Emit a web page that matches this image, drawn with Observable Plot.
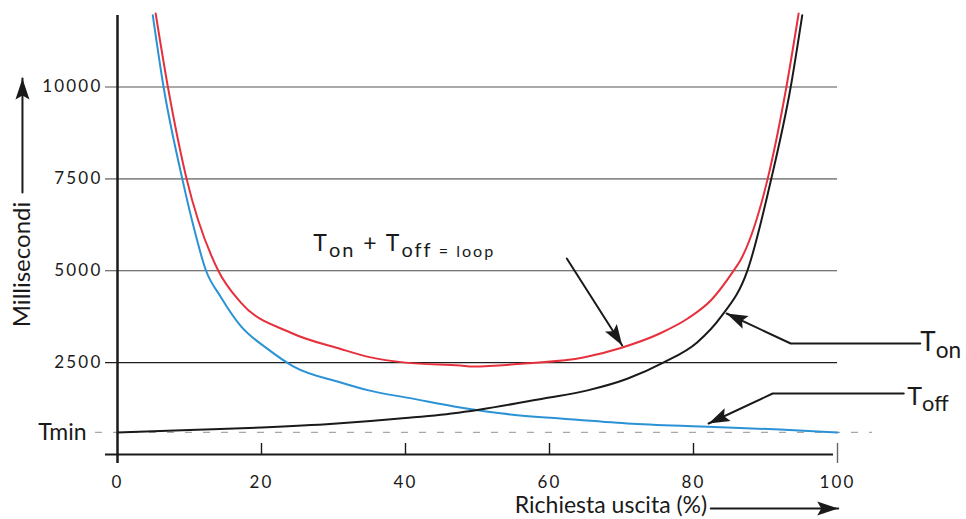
<!DOCTYPE html>
<html><head><meta charset="utf-8">
<script src="https://cdn.jsdelivr.net/npm/d3@7"></script>
<script src="https://cdn.jsdelivr.net/npm/@observablehq/plot@0.6"></script>
<style>
body{margin:0;background:#fff}
#chart svg{display:block}
#chart g[aria-label="y-axis tick label"] text,
#chart g[aria-label="x-axis tick label"] text{letter-spacing:2.2px}
</style></head><body><div id="chart"></div>
<script>
// ---- data ----
const xTicks = [0, 20, 40, 60, 80, 100];
const yTicks = [2500, 5000, 7500, 10000];
const tmin = 600;

// T_off (blue)
const offX = [4.9, 6.4, 9.0, 10.5, 12.3, 14.3, 17.1, 20.8, 24.4, 31, 34.9, 41, 47.6, 54.6, 61.5, 70.8, 81, 92, 100];
const offY = [11950, 10000, 7500, 6250, 5000, 4300, 3500, 2880, 2400, 1960, 1745, 1520, 1280, 1090, 980, 845, 760, 680, 600];

// T_on (black)
const onX = [0, 10, 20, 30, 40, 47.6, 50.4, 59.2, 65.3, 70.8, 75.8, 80.5, 83.75, 87.5, 90.8, 93.5, 95.1];
const onY = [600, 667, 735, 835, 990, 1145, 1225, 1525, 1745, 2060, 2500, 3050, 3730, 5010, 7500, 10000, 11950];

// T_on + T_off = loop (red)
const loopX = [5.3, 7.0, 9.6, 14.0, 17.1, 24, 31, 35, 40, 47.6, 49.4, 56.9, 64.7, 69.9, 75.4, 79.2, 82.4, 85.6, 86.5, 90.3, 92.9, 94.6];
const loopY = [12000, 10000, 7500, 5000, 4140, 3320, 2870, 2650, 2500, 2420, 2395, 2480, 2640, 2900, 3300, 3700, 4190, 5010, 5280, 7500, 10000, 12000];

// annotation texts (data coordinates)
const labelText = ["T_{on} + T_{off}_s{ = loop}", "T_{on}", "T_{off}"];
const labelX = [27.2, 111.5, 109.7];
const labelY = [5532, 2811, 1360];
const labelSize = [23, 26, 25];
const labelSpacing = [2, 0, 0];

// annotation arrows (data coordinates)
const arrowId = ["loop", "on", "off", "ytitle", "xtitle"];
const arrowXs = [[62.4, 70.1], [111.5, 93.5, 84.6], [109.2, 91, 82.1], [-13.2, -13.2], [82.4, 100.1]];
const arrowYs = [[5334, 2966], [3020, 3020, 3837], [1660, 1660, 844], [7130, 10230], [-1470, -1470]];

const axisTitles = ["Millisecondi", "Richiesta uscita (%)"];
const axisTitleX = [-13.2, 81.9];
const axisTitleY = [5170, -1605];

// ---- layout ----
const W = 966, H = 519;
const mL = 117, mR = 129, mT = 13, mB = 65;
const xDom = [0, 100], yDom = [0, 12000];
const kx = (W - mL - mR) / (xDom[1] - xDom[0]);
const ky = (H - mT - mB) / (yDom[1] - yDom[0]);

const rows = (name, xs, ys) => xs.map((x, i) => ({series: name, x, y: ys[i]}));
const offRows = rows("off", offX, offY);
const onRows = rows("on", onX, onY);
const loopRows = rows("loop", loopX, loopY);

const arrowRows = arrowId.flatMap((id, j) => arrowXs[j].map((x, i) => ({id, x, y: arrowYs[j][i]})));
const heads = arrowId.map((id, j) => {
  const xs = arrowXs[j], ys = arrowYs[j], n = xs.length;
  const dx = (xs[n-1] - xs[n-2]) * kx, dy = (ys[n-1] - ys[n-2]) * ky;
  return {id, x: xs[n-1], y: ys[n-1], angle: Math.atan2(dx, dy) * 180 / Math.PI};
});
const headSymbol = {draw(ctx) {
  ctx.moveTo(0, 0); ctx.lineTo(7, 21); ctx.lineTo(0, 17); ctx.lineTo(-7, 21); ctx.closePath();
}};
const labels = labelText.map((t, i) => ({t, x: labelX[i], y: labelY[i], size: labelSize[i], sp: labelSpacing[i]}));

const ink = "#1a1a1a";

const plot = Plot.plot({
  width: W, height: H,
  marginLeft: mL, marginRight: mR, marginTop: mT, marginBottom: mB,
  x: {domain: xDom},
  y: {domain: yDom},
  style: {fontFamily: "Lato, sans-serif", color: ink, background: "#fff"},
  marks: [
    Plot.ruleY(yTicks.filter(d => d >= 7500), {stroke: "#8c8c8c", strokeWidth: 1.6, insetLeft: -12}),
    Plot.ruleY(yTicks.filter(d => d === 5000), {stroke: "#4a4a4a", strokeWidth: 1.1, insetLeft: -12}),
    Plot.ruleY(yTicks.filter(d => d < 5000), {stroke: "#1e1e1e", strokeWidth: 1.1, insetLeft: -12}),
    Plot.ruleY([tmin], {stroke: "#a8a8a8", strokeWidth: 1.2, strokeDasharray: "7,11", insetLeft: -22, insetRight: -35}),
    Plot.ruleY([0], {stroke: ink, strokeWidth: 2, insetLeft: -12, insetRight: 4}),
    Plot.ruleX([0], {stroke: ink, strokeWidth: 2.5, insetTop: 2, insetBottom: -9}),
    Plot.ruleX(xTicks.slice(1, -1), {y1: 0, y2: 0, insetTop: -11, stroke: ink, strokeWidth: 1.4}),
    Plot.ruleX(xTicks.slice(-1), {y1: 0, y2: 0, insetTop: -11, insetBottom: -9, stroke: "#666", strokeWidth: 1.4}),
    Plot.axisY({ticks: yTicks, tickFormat: "d", tickSize: 0, tickPadding: 15, fontSize: 17, label: null}),
    Plot.axisX({ticks: xTicks, tickFormat: "d", tickSize: 0, tickPadding: 21, fontSize: 17, label: null}),
    Plot.text([tmin], {x: 0, y: d => d, text: () => "Tmin", dx: -31, textAnchor: "end", fontSize: 23}),
    Plot.line(offRows, {x: "x", y: "y", stroke: "#2b92d5", strokeWidth: 2, curve: "monotone-x"}),
    Plot.line(onRows, {x: "x", y: "y", stroke: ink, strokeWidth: 2, curve: "monotone-x"}),
    Plot.line(loopRows, {x: "x", y: "y", stroke: "#e6313d", strokeWidth: 2, curve: "monotone-x"}),
    Plot.line(arrowRows, {x: "x", y: "y", z: "id", stroke: ink, strokeWidth: 2, curve: "linear"}),
    Plot.dot(heads, {x: "x", y: "y", rotate: "angle", symbol: headSymbol, fill: ink, stroke: "none"}),
    Plot.text(labels, {x: "x", y: "y", text: "t", fontSize: "size", textAnchor: "start", lineAnchor: "bottom"}),
    Plot.text([0], {x: () => axisTitleX[0], y: () => axisTitleY[0], text: () => axisTitles[0], rotate: -90, fontSize: 24, textAnchor: "middle"}),
    Plot.text([1], {x: () => axisTitleX[1], y: () => axisTitleY[1], text: () => axisTitles[1], fontSize: 23, textAnchor: "end", lineAnchor: "bottom"})
  ]
});
document.getElementById("chart").appendChild(plot);

// rich text: _{..} subscript, _s{..} small subscript
const RE = /_(s?)\{([^}]*)\}/g;
d3.select(plot).selectAll("text").each(function() {
  const s = this.textContent;
  if (!/_s?\{/.test(s)) return;
  const lab = labels.find(l => l.t === s);
  if (lab && lab.sp) this.style.letterSpacing = lab.sp + "px";
  const fs = parseFloat(getComputedStyle(this).fontSize);
  const shift = 0.27 * fs;
  const tokens = []; let last = 0, m;
  RE.lastIndex = 0;
  while ((m = RE.exec(s))) {
    if (m.index > last) tokens.push({t: s.slice(last, m.index), k: "main"});
    tokens.push({t: m[2], k: m[1] ? "small" : "sub"});
    last = RE.lastIndex;
  }
  if (last < s.length) tokens.push({t: s.slice(last), k: "main"});
  this.textContent = "";
  let inSub = false;
  for (const tok of tokens) {
    const ts = d3.select(this).append("tspan").text(tok.t);
    if (tok.k === "main") { if (inSub) ts.attr("dy", -shift); inSub = false; }
    else { ts.attr("font-size", (tok.k === "small" ? 0.7 : 0.87) * fs); if (!inSub) ts.attr("dy", shift); inSub = true; }
  }
});
</script></body></html>
